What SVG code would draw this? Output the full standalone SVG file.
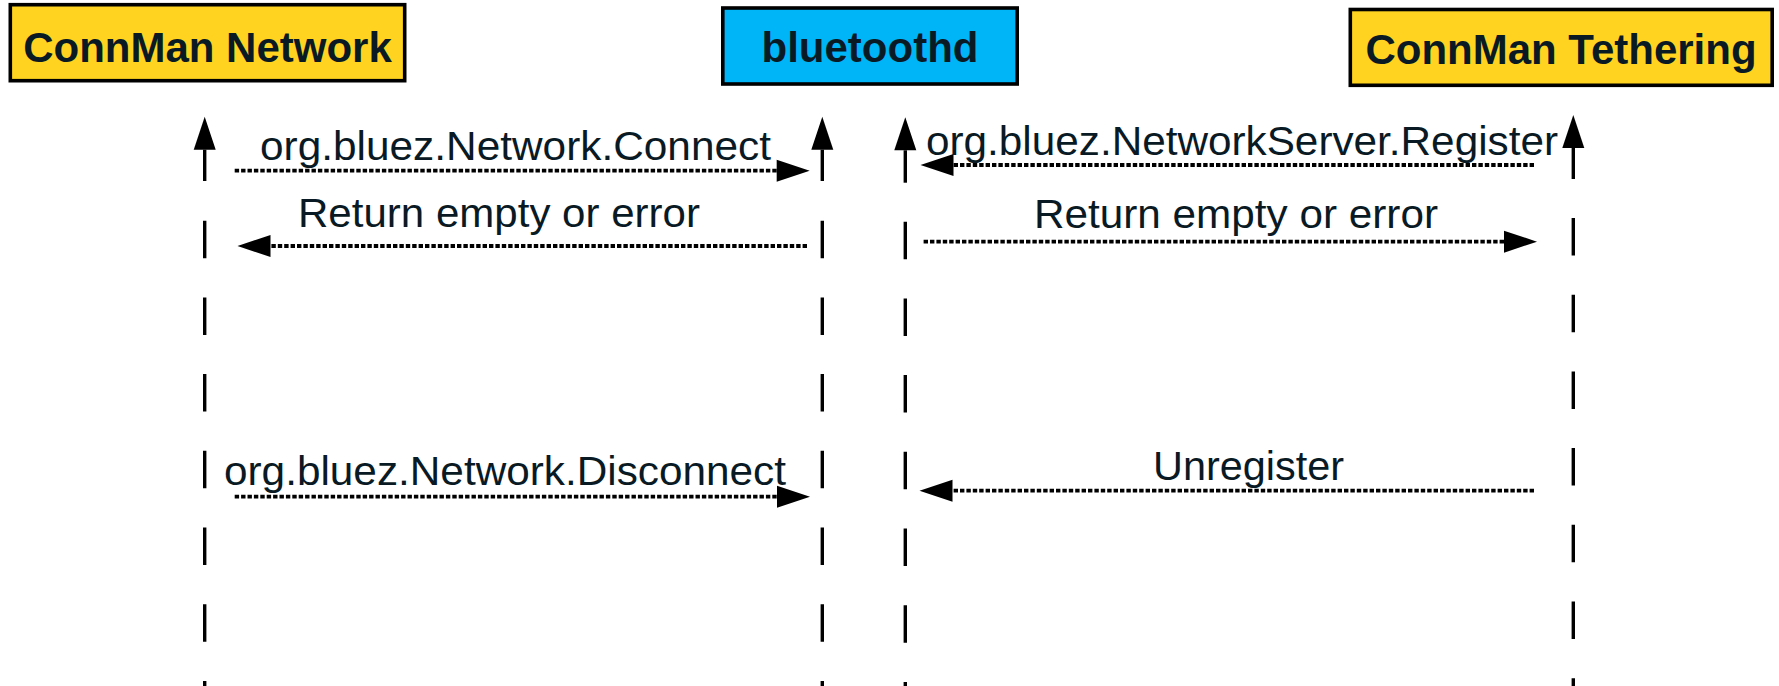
<svg xmlns="http://www.w3.org/2000/svg" width="1779" height="686" viewBox="0 0 1779 686">
  <style>
    .box { stroke: #000; stroke-width: 3.6; }
    .yellow { fill: #ffd320; }
    .blue { fill: #00b4f8; }
    .title { font-family: "Liberation Sans", Arial, sans-serif; font-weight: bold; font-size: 42px; fill: #0a1a24; }
    .label { font-family: "Liberation Sans", Arial, sans-serif; font-size: 41px; fill: #0a1a24; }
    .stem { stroke: #000; stroke-width: 3.4; fill: none; }
    .dash { stroke: #000; stroke-width: 3.4; fill: none; stroke-dasharray: 37.5 39.2; }
    .msg { stroke: #000; stroke-width: 3.8; fill: none; stroke-dasharray: 4.4 2; }
  </style>
  <defs>
    <marker id="head" markerUnits="userSpaceOnUse" markerWidth="34" markerHeight="24" refX="0" refY="11" orient="auto" overflow="visible">
      <path d="M0,0 L33,11 L0,22 Z" fill="#000"/>
    </marker>
  </defs>

  <g id="node-connman-network">
    <rect class="box yellow" x="10.3" y="4.7" width="394.4" height="76"/>
    <text class="title" x="207.5" y="62" text-anchor="middle">ConnMan Network</text>
  </g>
  <g id="node-bluetoothd">
    <rect class="box blue" x="722.8" y="8" width="294.4" height="76"/>
    <text class="title" x="870" y="62.3" text-anchor="middle">bluetoothd</text>
  </g>
  <g id="node-connman-tethering">
    <rect class="box yellow" x="1350.3" y="9.5" width="421.9" height="75.8"/>
    <text class="title" x="1561" y="64.3" text-anchor="middle">ConnMan Tethering</text>
  </g>

  <g id="lifelines">
    <line class="stem" x1="204.7" y1="181" x2="204.7" y2="149.7" marker-end="url(#head)"/>
    <line class="dash" x1="204.7" y1="220.7" x2="204.7" y2="686"/>
    <line class="stem" x1="822.3" y1="181" x2="822.3" y2="149.7" marker-end="url(#head)"/>
    <line class="dash" x1="822.3" y1="220.7" x2="822.3" y2="686"/>
    <line class="stem" x1="905.3" y1="182.7" x2="905.3" y2="150.3" marker-end="url(#head)"/>
    <line class="dash" x1="905.3" y1="221.7" x2="905.3" y2="686"/>
    <line class="stem" x1="1573.3" y1="179" x2="1573.3" y2="148" marker-end="url(#head)"/>
    <line class="dash" x1="1573.3" y1="218" x2="1573.3" y2="686"/>
  </g>

  <g id="connectors">
    <line class="msg" x1="234.7" y1="170.7" x2="776.7" y2="170.7" marker-end="url(#head)"/>
    <line class="msg" x1="807" y1="246" x2="270.5" y2="246" marker-end="url(#head)"/>
    <line class="msg" x1="1534" y1="165" x2="953.5" y2="165" marker-end="url(#head)"/>
    <line class="msg" x1="923.6" y1="241.7" x2="1504" y2="241.7" marker-end="url(#head)"/>
    <line class="msg" x1="234.7" y1="496.7" x2="777" y2="496.7" marker-end="url(#head)"/>
    <line class="msg" x1="1534" y1="490.7" x2="952.5" y2="490.7" marker-end="url(#head)"/>
  </g>

  <g id="labels">
    <text class="label" x="260" y="160" textLength="511" lengthAdjust="spacingAndGlyphs">org.bluez.Network.Connect</text>
    <text class="label" x="298" y="226.7" textLength="402" lengthAdjust="spacingAndGlyphs">Return empty or error</text>
    <text class="label" x="926" y="155" textLength="632" lengthAdjust="spacingAndGlyphs">org.bluez.NetworkServer.Register</text>
    <text class="label" x="1034" y="228" textLength="404" lengthAdjust="spacingAndGlyphs">Return empty or error</text>
    <text class="label" x="224" y="485" textLength="562" lengthAdjust="spacingAndGlyphs">org.bluez.Network.Disconnect</text>
    <text class="label" x="1153" y="480" textLength="191" lengthAdjust="spacingAndGlyphs">Unregister</text>
  </g>
</svg>
